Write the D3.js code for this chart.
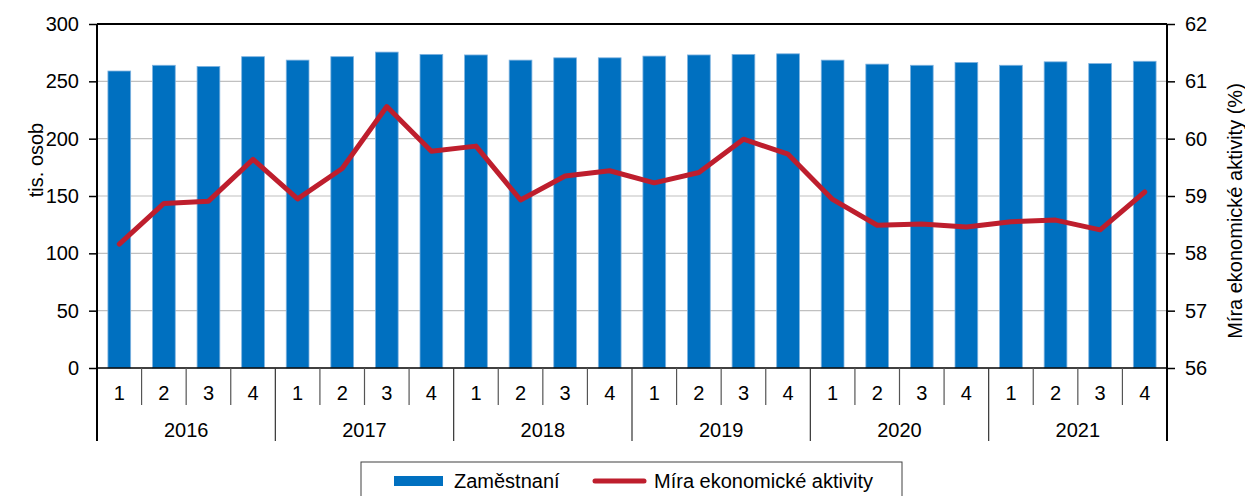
<!DOCTYPE html>
<html>
<head>
<meta charset="utf-8">
<script src="https://cdn.jsdelivr.net/npm/d3@7"></script>
<style>
  body { margin: 0; background: #fff; }
  svg { font-family: "Liberation Sans", Arial, sans-serif; }
</style>
</head>
<body>
<div id="main"></div>
<script>
// data
const years = ['2016', '2017', '2018', '2019', '2020', '2021'];
const quarters = ['1', '2', '3', '4'];
const employed = [259, 264, 263, 271.5, 268.5, 271.5, 275.5, 273.5,
                  273, 268.5, 270.5, 270.5, 272, 273, 273.5, 274,
                  268.5, 265, 264, 266.5, 264, 267, 265.5, 267.5];
const activityRate = [58.16, 58.87, 58.91, 59.64, 58.95, 59.48, 60.56, 59.78,
                      59.87, 58.93, 59.35, 59.44, 59.23, 59.41, 59.99, 59.73,
                      58.94, 58.49, 58.51, 58.46, 58.55, 58.58, 58.41, 59.07];
const leftTicks = [0, 50, 100, 150, 200, 250, 300];
const rightTicks = [56, 57, 58, 59, 60, 61, 62];

// layout
const w = 1245;
const h = 496;
const x0 = 97, x1 = 1167;
const yTop = 24, yBot = 368;
const fs = '20px';

const blue = '#0070C0';
const red = '#BE1E2D';

const cats = [];
years.forEach(y => quarters.forEach(q => cats.push(y + '-' + q)));

const svg = d3.select('#main')
    .append('svg')
    .attr('width', w)
    .attr('height', h)

const x = d3.scaleBand()
    .domain(cats)
    .range([x0, x1])
    .padding(0)

const yL = d3.scaleLinear().domain([0, 300]).range([yBot, yTop]);
const yR = d3.scaleLinear().domain([56, 62]).range([yBot, yTop]);

// gridlines
svg.append('g')
    .selectAll('line')
    .data(leftTicks.filter(d => d > 0 && d < 300))
    .enter()
    .append('line')
    .attr('x1', x0).attr('x2', x1)
    .attr('y1', d => yL(d)).attr('y2', d => yL(d))
    .attr('stroke', '#c0c0c0')
    .attr('stroke-width', 1.2)

// bars
const bw = x.bandwidth() * 0.51;
svg.append('g')
    .selectAll('rect')
    .data(employed)
    .enter()
    .append('rect')
    .attr('x', (d, i) => x(cats[i]) + x.bandwidth() / 2 - bw / 2)
    .attr('y', d => yL(d))
    .attr('width', bw)
    .attr('height', d => yBot - yL(d))
    .attr('fill', blue)
    .attr('stroke', '#7fb3e0')
    .attr('stroke-width', 0.8)

// line
const line = d3.line()
    .x((d, i) => x(cats[i]) + x.bandwidth() / 2)
    .y(d => yR(d))

svg.append('path')
    .datum(activityRate)
    .attr('d', line)
    .attr('fill', 'none')
    .attr('stroke', red)
    .attr('stroke-width', 5)
    .attr('stroke-linejoin', 'round')
    .attr('stroke-linecap', 'round')

// axes
const leftAxis = d3.axisLeft(yL).tickValues(leftTicks).tickSize(8).tickPadding(10).tickFormat(d3.format('d'));
const rightAxis = d3.axisRight(yR).tickValues(rightTicks).tickSize(8).tickPadding(10).tickFormat(d3.format('d'));

const gL = svg.append('g')
    .attr('transform', `translate(${x0},0)`)
    .call(leftAxis)
const gR = svg.append('g')
    .attr('transform', `translate(${x1},0)`)
    .call(rightAxis)

;[gL, gR].forEach(g => {
    g.select('.domain').remove()
    g.selectAll('line').attr('stroke', '#000').attr('stroke-width', 1.5)
    g.selectAll('text')
        .attr('fill', '#000')
        .style('font-size', fs)
        .style('font-family', '"Liberation Sans", Arial, sans-serif')
})

// frame lines
svg.append('line')
    .attr('x1', x0).attr('x2', x0).attr('y1', yTop).attr('y2', 441)
    .attr('stroke', '#000').attr('stroke-width', 2)
svg.append('line')
    .attr('x1', x1).attr('x2', x1).attr('y1', yTop).attr('y2', 441)
    .attr('stroke', '#000').attr('stroke-width', 2)
svg.append('line')
    .attr('x1', x0).attr('x2', x1).attr('y1', yTop).attr('y2', yTop)
    .attr('stroke', '#000').attr('stroke-width', 2)
svg.append('line')
    .attr('x1', x0).attr('x2', x1).attr('y1', yBot).attr('y2', yBot)
    .attr('stroke', '#000').attr('stroke-width', 1.5)

// category axis: quarter separators and labels
svg.append('g')
    .selectAll('line')
    .data(cats.slice(1))
    .enter()
    .append('line')
    .attr('x1', d => x(d)).attr('x2', d => x(d))
    .attr('y1', yBot)
    .attr('y2', d => d.endsWith('-1') ? 441 : 405)
    .attr('stroke', d => d.endsWith('-1') ? '#333' : '#555')
    .attr('stroke-width', 1.2)

svg.append('g')
    .selectAll('text')
    .data(cats)
    .enter()
    .append('text')
    .attr('x', d => x(d) + x.bandwidth() / 2)
    .attr('y', 400)
    .attr('text-anchor', 'middle')
    .style('font-size', fs)
    .text(d => d.split('-')[1])

svg.append('g')
    .selectAll('text')
    .data(years)
    .enter()
    .append('text')
    .attr('x', d => (x(d + '-1') + x(d + '-4') + x.bandwidth()) / 2)
    .attr('y', 437)
    .attr('text-anchor', 'middle')
    .style('font-size', fs)
    .text(d => d)

// axis titles
svg.append('text')
    .attr('transform', `translate(43,160) rotate(-90)`)
    .attr('text-anchor', 'middle')
    .style('font-size', fs)
    .text('tis. osob')

svg.append('text')
    .attr('transform', `translate(1242,211) rotate(-90)`)
    .attr('text-anchor', 'middle')
    .style('font-size', fs)
    .text('Míra ekonomické aktivity (%)')

// legend
const legend = svg.append('g')
legend.append('rect')
    .attr('x', 361).attr('y', 462)
    .attr('width', 541).attr('height', 44)
    .attr('fill', '#fff')
    .attr('stroke', '#404040')
    .attr('stroke-width', 1)
legend.append('rect')
    .attr('x', 394).attr('y', 476)
    .attr('width', 49).attr('height', 10)
    .attr('fill', blue)
legend.append('text')
    .attr('x', 454).attr('y', 488)
    .style('font-size', fs)
    .text('Zaměstnaní')
legend.append('line')
    .attr('x1', 595).attr('x2', 644)
    .attr('y1', 481).attr('y2', 481)
    .attr('stroke', red)
    .attr('stroke-width', 5)
    .attr('stroke-linecap', 'round')
legend.append('text')
    .attr('x', 654).attr('y', 488)
    .style('font-size', fs)
    .text('Míra ekonomické aktivity')
</script>
</body>
</html>
